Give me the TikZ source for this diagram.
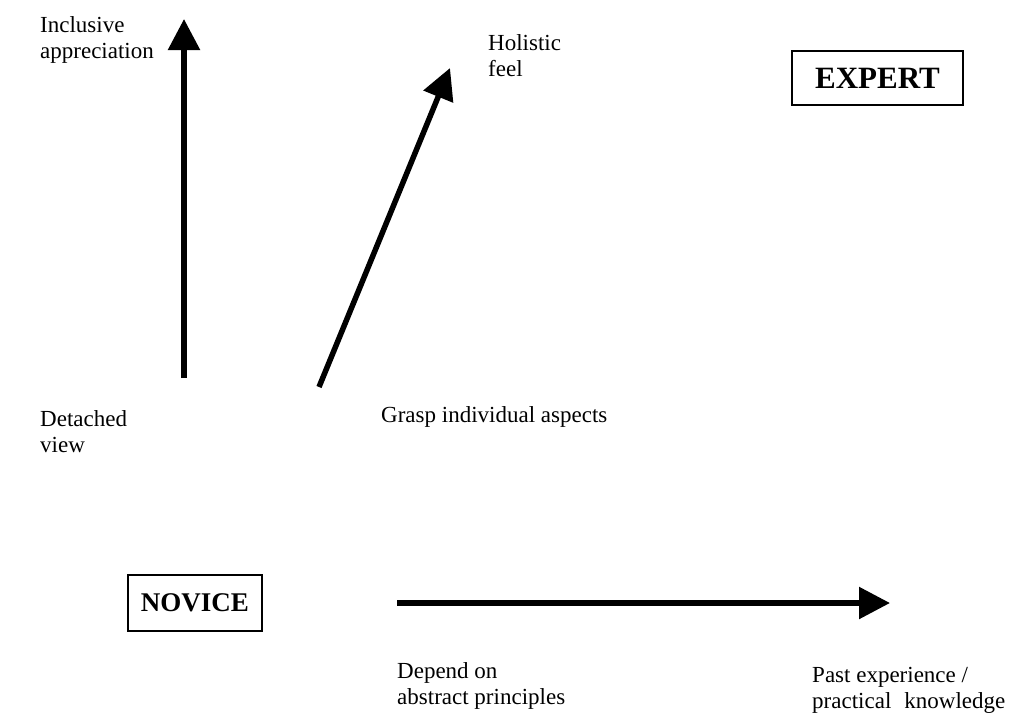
\documentclass[tikz,border=0pt]{standalone}
\usepackage{fontspec}
\setmainfont{Liberation Serif}
\usetikzlibrary{arrows.meta}
\begin{document}
\begin{tikzpicture}[x=1pt,y=-1pt,
  every node/.style={inner sep=0pt},
  % labels are placed by the baseline of their last line
  lbl/.style={anchor=base west, align=left, font=\fontsize{23}{26}\selectfont},
  stagebox/.style={draw, line width=1.2pt, font=\bfseries},
  bigarrow/.style={line width=5.5pt, -{Triangle[length=31pt,width=31pt]}}]
\useasboundingbox (0,0) rectangle (1016,715);

% stage boxes
\node[stagebox, minimum width=171pt, minimum height=54pt,
      font=\fontsize{31}{34}\selectfont\bfseries] (expert) at (877.5,78) {EXPERT};
\node[stagebox, minimum width=134pt, minimum height=56pt,
      font=\fontsize{27}{30}\selectfont\bfseries] (novice) at (195,603) {NOVICE};

% arrow end points
\coordinate (vfrom) at (184,378);
\coordinate (vto)   at (184,19);
\coordinate (dfrom) at (319,387);
\coordinate (dto)   at (450,68);
\coordinate (hfrom) at (397,603);
\coordinate (hto)   at (890,603);

\draw[bigarrow] (vfrom) -- (vto);
\draw[bigarrow] (dfrom) -- (dto);
\draw[bigarrow] (hfrom) -- (hto);

% labels
\node[lbl] (incl)   at (40,58)   {Inclusive\\appreciation};
\node[lbl] (holis)  at (488,76)  {Holistic\\feel};
\node[lbl] (grasp)  at (381,422) {Grasp individual aspects};
\node[lbl] (detach) at (40,452)  {Detached\\view};
\node[lbl] (depend) at (397,704) {Depend on\\abstract principles};
\node[lbl] (past)   at (812,708) {Past experience /\\practical\hspace{13pt}knowledge};
\end{tikzpicture}
\end{document}
